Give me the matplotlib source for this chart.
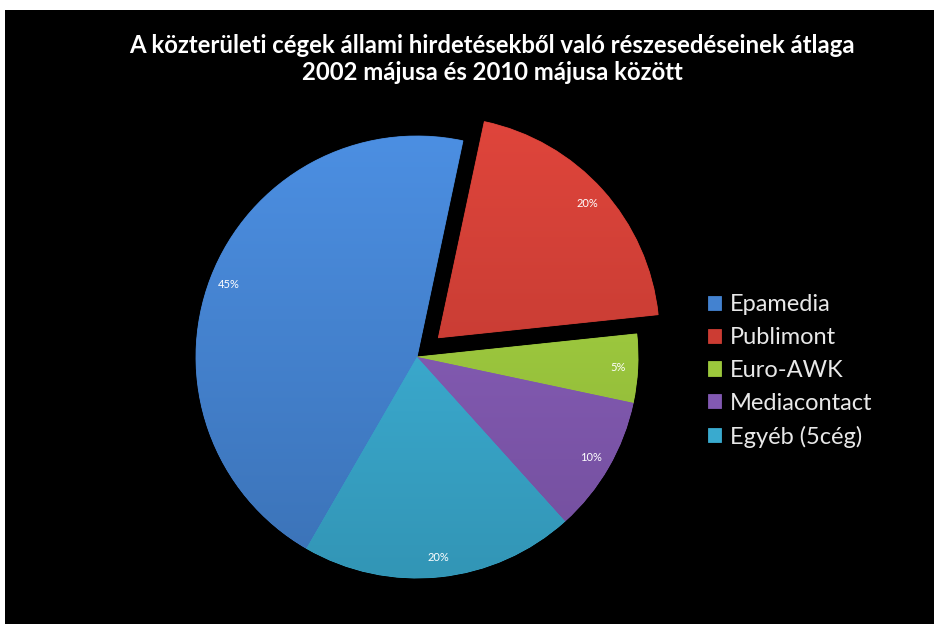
import numpy as np
import matplotlib.pyplot as plt
from matplotlib.colors import to_rgb
from matplotlib.patches import Rectangle

companies = ['Epamedia', 'Publimont', 'Euro-AWK', 'Mediacontact', 'Egyéb (5cég)']
shares = [45, 20, 5, 10, 20]
colors = ['#4382d0', '#cc3c33', '#9cc83c', '#8259b2', '#39aacf']
explode = [0, 0.13, 0, 0, 0]

title = ('A közterületi cégek állami hirdetésekből való részesedéseinek átlaga\n'
         '2002 májusa és 2010 májusa között')

plt.rcParams['font.family'] = ['Lato', 'DejaVu Sans']

fig = plt.figure(figsize=(9.34, 6.24), dpi=100, facecolor='white')
# black chart area with thin white margin at top/left
fig.patches.append(Rectangle((5 / 934, 0), 1, 1 - 10 / 624, transform=fig.transFigure,
                             facecolor='black', edgecolor='none', zorder=-5))

# square axes centred on the pie
half = 260
cx, cy = 417, 357
ax = fig.add_axes([(cx - half) / 934, (624 - cy - half) / 624, 2 * half / 934, 2 * half / 624])
ax.set_facecolor('none')
ax.set_zorder(2)

wedges, texts, autotexts = ax.pie(
    shares, colors=colors, explode=explode, startangle=240, counterclock=False,
    autopct='%d%%', pctdistance=0.91,
    wedgeprops=dict(linewidth=0.6),
    textprops=dict(color='white', fontsize=8))
lim = half / 221

# soft vertical shading like the excel gradient fill
t = np.linspace(0, 1, 256)[:, None]
for w, c in zip(wedges, colors):
    w.set_edgecolor(c)
    rgb = np.array(to_rgb(c))
    top = np.clip(rgb * 1.08 + 0.02, 0, 1)
    bot = rgb * 0.86
    grad = (top * (1 - t) + bot * t)[:, None, :]
    im = ax.imshow(grad, extent=(-lim, lim, -lim, lim), aspect='auto', zorder=1.5,
                   interpolation='bilinear')
    im.set_clip_path(w)
for a in autotexts:
    a.set_zorder(4)

ax.set_xlim(-lim, lim)
ax.set_ylim(-lim, lim)
ax.set_aspect('equal')
ax.axis('off')

fig.text(0.527, 1 - 59 / 624, title, ha='center', va='center', color='white',
         fontsize=17.2, fontweight='bold', linespacing=1.25, zorder=3)

leg = fig.legend(wedges, companies, loc='upper left', bbox_to_anchor=(687 / 934, 1 - 273 / 624),
                 frameon=False, fontsize=17, labelcolor='#e8e8e8', handlelength=0.55,
                 handleheight=0.55, handletextpad=0.35, labelspacing=0.5)
leg.set_zorder(3)

fig.savefig('out.png', dpi=100, facecolor=fig.get_facecolor())
